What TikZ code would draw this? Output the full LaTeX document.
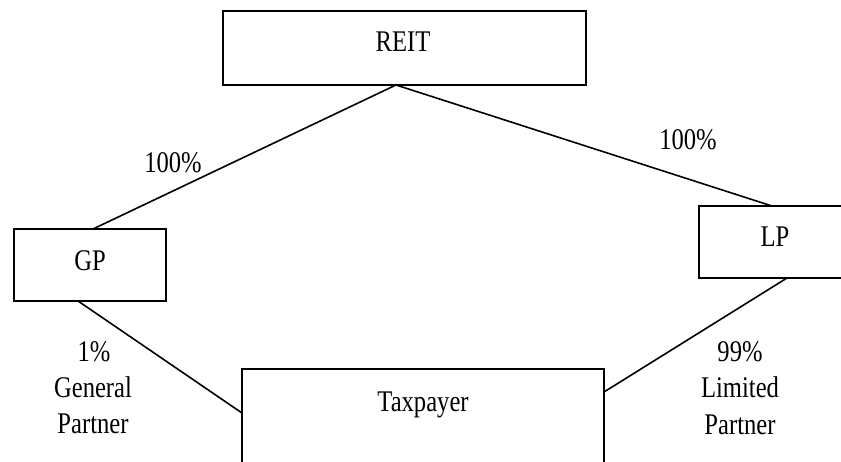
\documentclass[tikz,border=0pt]{standalone}
\usepackage{fontspec}
\setmainfont{Liberation Serif}[FakeStretch=0.82]
\usetikzlibrary{calc}
\begin{document}
\begin{tikzpicture}[x=1pt,y=-1pt,
  box/.style={draw=black,line width=1.6pt,inner sep=0pt,outer sep=0pt,anchor=north west},
  txt/.style={inner sep=0pt,anchor=base,font=\fontsize{30}{32}\selectfont},
  link/.style={draw=black,line width=1.6pt}]
\useasboundingbox (0,0) rectangle (841,462);
\fill[white] (0,0) rectangle (841,462);
\begin{scope}
\clip (0,0) rectangle (841,462);
\node[box,minimum width=363pt,minimum height=74pt] (reit) at (223,11) {};
\node[box,minimum width=152pt,minimum height=72pt] (gp) at (14,229) {};
\node[box,minimum width=160pt,minimum height=72pt] (lp) at (699,206) {};
\node[box,minimum width=362pt,minimum height=110pt] (tax) at (242,369) {};
\node[txt] (reitT) at (403,52) {REIT};
\node[txt] (gpT) at (90,271) {GP};
\node[txt] (lpT) at (775,247) {LP};
\node[txt] (taxT) at (423,411) {Taxpayer};
\node[txt] (l1) at (173,173) {100\%};
\node[txt] (l2) at (688,150) {100\%};
\node[txt] (g1) at (94,362) {1\%};
\node[txt] (g2) at (93,397) {General};
\node[txt] (g3) at (93,433) {Partner};
\node[txt] (p1) at (740,362) {99\%};
\node[txt] (p2) at (740,397) {Limited};
\node[txt] (p3) at (740,434) {Partner};
\coordinate (rb) at ([xshift=173pt]reit.south west);
\draw[link] (rb) -- ([xshift=79pt]gp.north west);
\draw[link] (rb) -- ([xshift=73pt]lp.north west);
\draw[link] ([xshift=64pt]gp.south west) -- ([yshift=-44pt]tax.north west);
\draw[link] ([xshift=88pt]lp.south west) -- ([yshift=-23pt]tax.north east);
\end{scope}
\end{tikzpicture}
\end{document}
